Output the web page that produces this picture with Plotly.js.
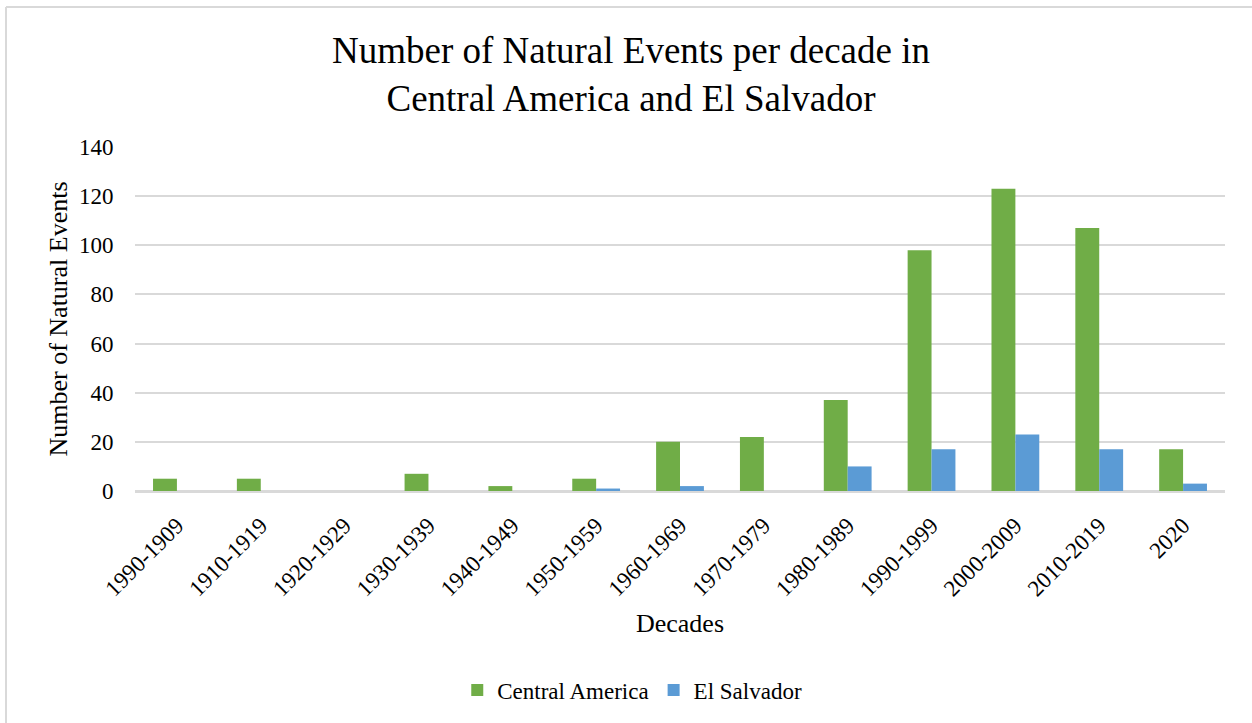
<!DOCTYPE html>
<html>
<head>
<meta charset="utf-8">
<script src="https://cdn.plot.ly/plotly-3.0.1.min.js"></script>
<style>
  html, body { margin: 0; padding: 0; background: #ffffff; }
  #chart { width: 1252px; height: 723px; }
</style>
</head>
<body>
<div id="chart"></div>
<script>
// Decades on the category axis
const decades = ['1990-1909', '1910-1919', '1920-1929', '1930-1939', '1940-1949', '1950-1959',
                 '1960-1969', '1970-1979', '1980-1989', '1990-1999', '2000-2009', '2010-2019', '2020'];

// Natural events recorded per decade
const centralAmerica = [5, 5, 0, 7, 2, 5, 20, 22, 37, 98, 123, 107, 17];
const elSalvador     = [0, 0, 0, 0, 0, 1, 2, 0, 10, 17, 23, 17, 3];

// Value-axis ticks
const yTicks = [0, 20, 40, 60, 80, 100, 120, 140];

const FONT = 'Liberation Serif, Times New Roman, serif';
const GRID = '#D9D9D9';

// Pixel frame of the plotting area
const W = 1252, H = 723;
const M = { l: 135, r: 27, t: 147, b: 232 };
const pw = W - M.l - M.r, ph = H - M.t - M.b;
const px = x => (x - M.l) / pw;          // page x -> paper x
const py = y => (H - M.b - y) / ph;      // page y -> paper y

const traces = [
  {
    type: 'bar', name: 'Central America', x: decades, y: centralAmerica,
    marker: { color: '#70AD47' }, hoverinfo: 'x+y+name'
  },
  {
    type: 'bar', name: 'El Salvador', x: decades, y: elSalvador,
    marker: { color: '#5B9BD5' }, hoverinfo: 'x+y+name'
  }
];

const layout = {
  width: W, height: H,
  margin: M,
  paper_bgcolor: '#ffffff', plot_bgcolor: '#ffffff',
  font: { family: FONT, color: '#000000', size: 23 },
  barmode: 'group', bargap: 0.43, bargroupgap: 0,
  title: {
    text: 'Number of Natural Events per decade in<br>Central America and El Salvador',
    font: { family: FONT, size: 37, color: '#000000' },
    xref: 'container', x: 0.504, xanchor: 'center',
    yref: 'container', y: 1 - 63 / H, yanchor: 'top'
  },
  xaxis: {
    type: 'category',
    tickangle: -45,
    tickfont: { family: FONT, size: 23 },
    ticks: 'outside', ticklen: 10, tickcolor: 'rgba(0,0,0,0)',
    showline: true, linecolor: GRID, linewidth: 2,
    showgrid: false, zeroline: false,
    title: { text: 'Decades', font: { family: FONT, size: 26 }, standoff: 14 },
    fixedrange: true
  },
  yaxis: {
    range: [0, 140],
    tickvals: yTicks,
    tickfont: { family: FONT, size: 23 },
    ticks: 'outside', ticklen: 16, tickcolor: 'rgba(0,0,0,0)',
    showgrid: true, gridcolor: GRID, gridwidth: 2,
    zeroline: true, zerolinecolor: GRID, zerolinewidth: 2,
    showline: false,
    title: { text: 'Number of Natural Events', font: { family: FONT, size: 26 }, standoff: 3 },
    fixedrange: true
  },
  legend: {
    orientation: 'h',
    xref: 'container', x: 0.505, xanchor: 'center',
    yref: 'container', y: 1 - 690 / H, yanchor: 'middle',
    font: { family: FONT, size: 23 },
    itemwidth: 30, traceorder: 'normal'
  },
  shapes: [
    // chart frame (left and top edges)
    { type: 'line', xref: 'paper', yref: 'paper',
      x0: px(6), x1: px(6), y0: py(740), y1: py(7),
      line: { color: GRID, width: 2 } },
    { type: 'line', xref: 'paper', yref: 'paper',
      x0: px(6), x1: px(1270), y0: py(7), y1: py(7),
      line: { color: GRID, width: 2 } }
  ]
};

Plotly.newPlot('chart', traces, layout, { displayModeBar: false });
</script>
</body>
</html>
